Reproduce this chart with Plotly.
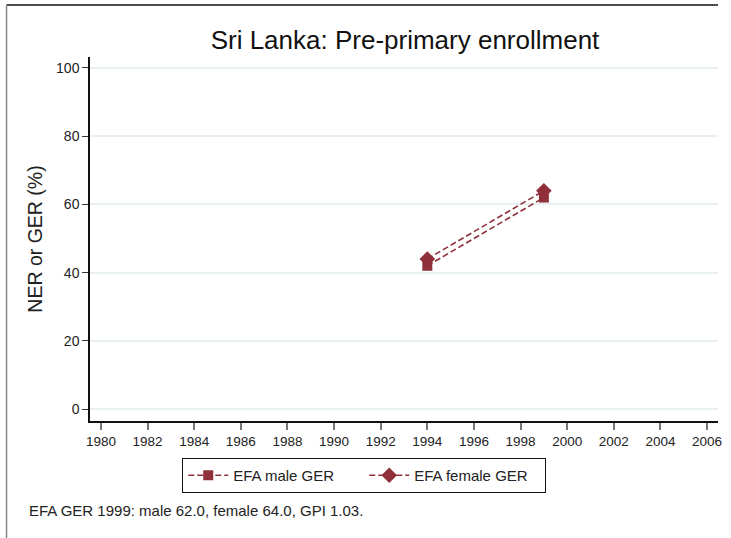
import plotly.graph_objects as go

years = [1994, 1999]
male_ger = [42.0, 62.0]
female_ger = [44.0, 64.0]
x_ticks = list(range(1980, 2007, 2))
y_ticks = [0, 20, 40, 60, 80, 100]

title = "Sri Lanka: Pre-primary enrollment"
note = "EFA GER 1999: male 62.0, female 64.0, GPI 1.03."
color = "#8f303a"
font = "Liberation Sans, Arial, sans-serif"

fig = go.Figure()
fig.add_trace(go.Scatter(x=years, y=male_ger, name="EFA male GER", mode="lines+markers",
                         line=dict(color=color, width=1.6, dash="6px,3px"),
                         marker=dict(symbol="square", size=10, color=color)))
fig.add_trace(go.Scatter(x=years, y=female_ger, name="EFA female GER", mode="lines+markers",
                         line=dict(color=color, width=1.6, dash="6px,3px"),
                         marker=dict(symbol="diamond", size=12, color=color)))

L, R, T, B = 90, 9, 57, 117
W, H = 731, 538
pw, ph = W - L - R, H - T - B

def px(x):
    return (x - L) / pw

def py(y):
    return (H - B - y) / ph

fig.update_layout(
    width=W, height=H,
    margin=dict(l=L, r=R, t=T, b=B, pad=0),
    paper_bgcolor="white", plot_bgcolor="white",
    font=dict(family=font, color="#222", size=13),
    title=dict(text=title, xref="container", x=405 / W, xanchor="center",
               yref="container", y=1 - 40 / H, yanchor="middle",
               font=dict(size=26, color="#111")),
    showlegend=True,
    legend=dict(orientation="h", x=px(366), xanchor="center", y=py(458), yanchor="top",
                bordercolor="#111", borderwidth=1, font=dict(size=15),
                entrywidth=126, entrywidthmode="pixels", itemwidth=40,
                tracegroupgap=0),
    xaxis=dict(range=[1979.53, 2006.47], tickmode="array", tickvals=x_ticks,
               ticks="outside", ticklen=7, tickcolor="#777", tickwidth=1.5,
               showline=True, linecolor="#111", linewidth=1.5, showgrid=False,
               zeroline=False, tickfont=dict(size=13.5)),
    yaxis=dict(range=[-3.5, 103.2], tickmode="array", tickvals=y_ticks,
               ticks="outside", ticklen=6, tickcolor="#333", tickwidth=1,
               showline=True, linecolor="#111", linewidth=1.5, showgrid=True,
               gridcolor="#e8f0f2", gridwidth=1.5, zeroline=False,
               title=dict(text="NER or GER (%)", font=dict(size=19.5), standoff=8),
               tickfont=dict(size=14)),
    annotations=[dict(text=note, xref="paper", yref="paper", x=px(27), y=py(510),
                      xanchor="left", yanchor="middle", showarrow=False,
                      font=dict(size=15, color="#222"))],
    shapes=[
        dict(type="line", xref="paper", yref="paper", x0=px(6), x1=px(722), y0=py(5), y1=py(5),
             line=dict(color="#111", width=1.5)),
        dict(type="line", xref="paper", yref="paper", x0=px(6), x1=px(6), y0=py(5), y1=py(538),
             line=dict(color="#888", width=1.5)),
    ],
)

fig.write_html("out.html", config={"displayModeBar": False},
               post_script="document.body.style.margin='0';")
